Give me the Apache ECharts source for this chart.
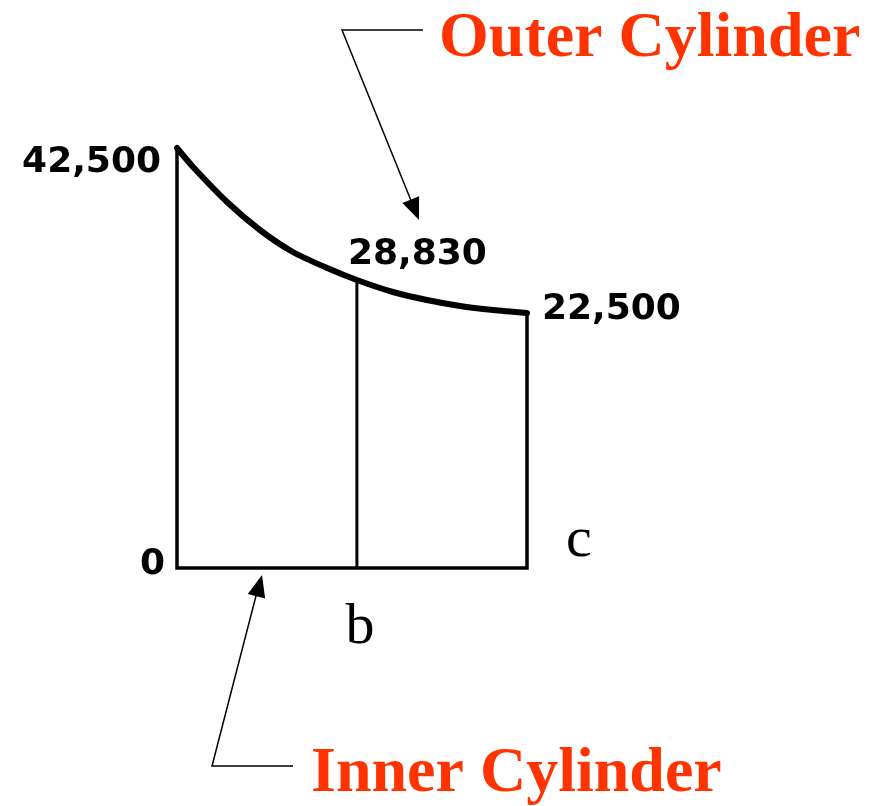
<!DOCTYPE html>
<html>
<head>
<meta charset="utf-8">
<script src="https://cdn.jsdelivr.net/npm/echarts@6/dist/echarts.min.js"></script>
<style>
html,body{margin:0;padding:0;background:#fff;}
#chart{width:875px;height:806px;}
</style>
</head>
<body>
<div id="chart"></div>
<script>
// Radial positions of a, b, c (drawing units along the wall)
var radialNames = ['0', 'b', 'c'];
var boundaryX = [0, 5.14, 10];
// Stress values at a, b, c (as labelled)
var stressValues = [42500, 28830, 22500];
// Schematic drawing heights of the curve (read from picture, not to scale)
var curveX = [0, 0.46, 1.43, 2.37, 3.31, 4.29, 5.14, 6.17, 7.14, 8.09, 9.03, 10];
var curveH = [420, 401, 366, 338, 316, 300, 288, 276, 268, 262, 258, 255];
var boundaryH = [420, 288, 255];
var annotations = ['Outer Cylinder', 'Inner Cylinder'];

function fmt(v){ return String(v).replace(/\B(?=(\d{3})+(?!\d))/g, ','); }

var chart = echarts.init(document.getElementById('chart'), null, {renderer:'canvas'});

var curveData = curveX.map(function(x,i){ return [x, curveH[i]]; });
var frameData = [[boundaryX[0], boundaryH[0]], [boundaryX[0], 0], [boundaryX[2], 0], [boundaryX[2], boundaryH[2]]];
var midData = [[boundaryX[1], 0], [boundaryX[1], boundaryH[1]]];

var numFont = {fontFamily:'DejaVu Sans', fontWeight:'bold', fontSize:36, color:'#000000'};
var stressLabelCfg = [
  {align:'right', offset:[-16, 15]},
  {align:'left', offset:[-9, -25]},
  {align:'left', offset:[15, -3]}
];
var stressPts = boundaryX.map(function(x,i){
  return {value:[x, boundaryH[i]], label:Object.assign({show:true, position:'inside', verticalAlign:'middle',
    formatter: fmt(stressValues[i])}, numFont, stressLabelCfg[i])};
});
var radialLabelCfg = [
  {align:'right', offset:[-12, -3], fontFamily:'DejaVu Sans', fontWeight:'bold', fontSize:36},
  {align:'center', offset:[3, 60], fontFamily:'Liberation Serif', fontWeight:'normal', fontSize:58},
  {align:'left', offset:[39, -27], fontFamily:'Liberation Serif', fontWeight:'normal', fontSize:58}
];
var radialPts = boundaryX.map(function(x,i){
  return {value:[x, 0], label:Object.assign({show:true, position:'inside', verticalAlign:'middle', color:'#000000',
    formatter: radialNames[i]}, radialLabelCfg[i])};
});

function arrowHead(tip, from, len, half){
  var dx = tip[0]-from[0], dy = tip[1]-from[1];
  var L = Math.sqrt(dx*dx+dy*dy); var ux = dx/L, uy = dy/L;
  var bx = tip[0]-len*ux, by = tip[1]-len*uy;
  return [tip, [bx - half*uy, by + half*ux], [bx + half*uy, by - half*ux]];
}

var redText = {fill:'#ff3300', fontFamily:'Liberation Serif', fontWeight:'bold', fontSize:64,
  textShadowColor:'#b8b8b8', textShadowOffsetX:3, textShadowOffsetY:3, textShadowBlur:0,
  align:'left', verticalAlign:'middle'};

var option = {
  animation:false,
  backgroundColor:'#ffffff',
  grid:{left:177, right:348, top:148, bottom:238},
  xAxis:{type:'value', min:0, max:10, show:false},
  yAxis:{type:'value', min:0, max:420, show:false},
  series:[
    {type:'line', data:frameData, clip:false, symbol:'none', lineStyle:{color:'#000', width:3.5, join:'miter'}, silent:true},
    {type:'line', data:midData, clip:false, symbol:'none', lineStyle:{color:'#000', width:3}, silent:true},
    {type:'line', data:curveData, clip:false, symbol:'none', smooth:0.25, lineStyle:{color:'#000', width:6, cap:'round'}, silent:true},
    {type:'scatter', data:stressPts, symbolSize:1, itemStyle:{color:'rgba(0,0,0,0)', opacity:1}, silent:true},
    {type:'scatter', data:radialPts, symbolSize:1, itemStyle:{color:'rgba(0,0,0,0)', opacity:1}, silent:true}
  ],
  graphic:[
    {type:'text', x:439, y:39, style:Object.assign({text:annotations[0]}, redText)},
    {type:'text', x:311, y:774, style:Object.assign({text:annotations[1]}, redText)},
    {type:'polyline', shape:{points:[[423,30],[342,30],[412,203]]}, style:{stroke:'#000', lineWidth:1.5, fill:null}},
    {type:'polygon', shape:{points:arrowHead([419,220],[342,30],22,9)}, style:{fill:'#000'}},
    {type:'polyline', shape:{points:[[293,766],[212,766],[257,592]]}, style:{stroke:'#000', lineWidth:1.5, fill:null}},
    {type:'polygon', shape:{points:arrowHead([262,575],[212,766],22,9)}, style:{fill:'#000'}}
  ]
};
chart.setOption(option);
</script>
</body>
</html>
